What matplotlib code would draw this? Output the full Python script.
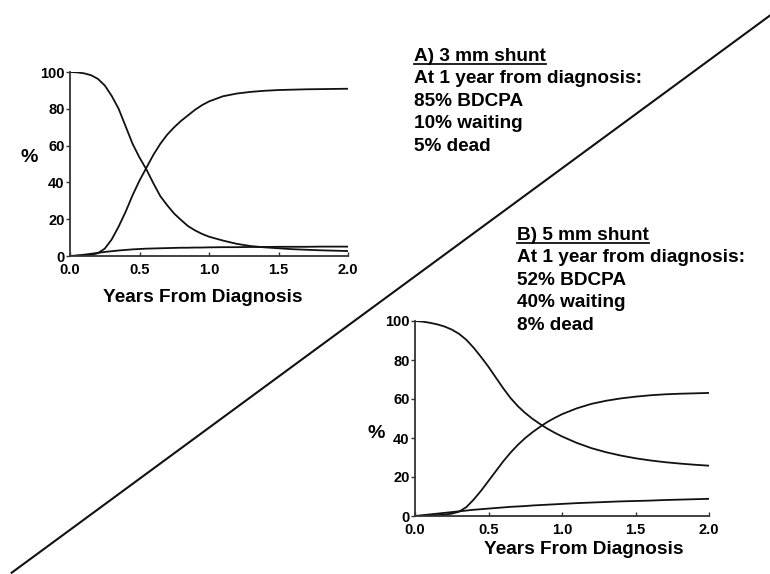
import matplotlib
matplotlib.use("Agg")
import matplotlib.pyplot as plt
from matplotlib.lines import Line2D

plt.rcParams['font.family'] = ['Liberation Sans', 'DejaVu Sans']
plt.rcParams['font.weight'] = 'bold'

# ---- data ----
years = [0, 0.05, 0.1, 0.15, 0.2, 0.25, 0.3, 0.35, 0.4, 0.45, 0.5, 0.55, 0.6, 0.65,
         0.7, 0.75, 0.8, 0.85, 0.9, 0.95, 1.0, 1.1, 1.2, 1.3, 1.4, 1.5, 1.6, 1.7,
         1.8, 1.9, 2.0]

a_waiting = [100, 99.8, 99.3, 98.3, 96.3, 92.7, 87.0, 80.0, 70.5, 61.0, 53.5, 47.0,
             39.5, 32.5, 27.5, 23.0, 19.5, 16.2, 13.9, 12.0, 10.5, 8.4, 6.6, 5.4,
             4.7, 4.2, 3.7, 3.4, 3.1, 2.9, 2.7]
a_bdcpa = [0, 0.1, 0.3, 0.6, 1.5, 4.0, 9.0, 16.0, 24.0, 33.0, 41.0, 48.0, 55.0, 61.0,
           66.0, 70.0, 73.5, 76.5, 79.5, 82.0, 84.0, 86.8, 88.3, 89.2, 89.8, 90.2,
           90.4, 90.6, 90.7, 90.8, 90.9]
a_dead = [0, 0.3, 0.7, 1.2, 1.7, 2.2, 2.6, 3.0, 3.3, 3.6, 3.8, 4.0, 4.1, 4.2, 4.3,
          4.4, 4.5, 4.5, 4.6, 4.6, 4.7, 4.8, 4.8, 4.9, 4.9, 5.0, 5.0, 5.0, 5.1, 5.1, 5.1]

b_waiting = [100, 99.7, 99.1, 98.3, 97.2, 95.6, 93.4, 90.3, 86.2, 81.5, 76.5, 71.0,
             65.5, 60.5, 56.3, 52.8, 49.8, 47.2, 44.8, 42.7, 40.8, 37.5, 34.8, 32.7,
             31.0, 29.6, 28.5, 27.6, 26.9, 26.3, 25.8]
b_bdcpa = [0, 0.1, 0.2, 0.4, 0.7, 1.2, 2.2, 4.6, 8.5, 13.0, 18.0, 23.0, 28.0, 32.5,
           36.5, 40.0, 43.0, 45.7, 48.2, 50.3, 52.2, 55.2, 57.5, 59.1, 60.3, 61.2,
           61.9, 62.4, 62.7, 62.9, 63.1]
b_dead = [0, 0.4, 0.8, 1.2, 1.6, 2.0, 2.4, 2.8, 3.2, 3.5, 3.8, 4.1, 4.4, 4.7, 4.9,
          5.1, 5.4, 5.6, 5.8, 6.0, 6.2, 6.6, 6.9, 7.2, 7.5, 7.7, 7.9, 8.2, 8.4, 8.6, 8.8]

x_ticks = [0.0, 0.5, 1.0, 1.5, 2.0]
x_ticklabels = ['0.0', '0.5', '1.0', '1.5', '2.0']
y_ticks = [0, 20, 40, 60, 80, 100]
y_ticklabels = ['0', '20', '40', '60', '80', '100']
x_label = 'Years From Diagnosis'
y_label = '%'

text_a = ['A) 3 mm shunt', 'At 1 year from diagnosis:', '85% BDCPA', '10% waiting', '5% dead']
text_b = ['B) 5 mm shunt', 'At 1 year from diagnosis:', '52% BDCPA', '40% waiting', '8% dead']

W, H = 770, 574
fig = plt.figure(figsize=(W / 100, H / 100), dpi=100)
fig.patch.set_facecolor('white')


def px(x, y):
    return x / W, 1 - y / H


def make_axes(left, top, right, bottom, series):
    ax = fig.add_axes([left / W, 1 - bottom / H, (right - left) / W, (bottom - top) / H])
    for s in series:
        ax.plot(years, s, color='#111111', lw=1.3, solid_capstyle='round')
    ax.set_xlim(0, 2)
    ax.set_ylim(0, 100)
    for sp in ['top', 'right']:
        ax.spines[sp].set_visible(False)
    for sp in ['left', 'bottom']:
        ax.spines[sp].set_color('#333333')
        ax.spines[sp].set_linewidth(1.3)
    ax.set_xticks(x_ticks)
    ax.set_xticklabels(x_ticklabels, fontsize=10.5, fontweight='bold')
    ax.set_yticks(y_ticks)
    ax.set_yticklabels(y_ticklabels, fontsize=10.5, fontweight='bold')
    ax.tick_params(axis='x', direction='in', length=3, width=1, pad=5, color='#333333')
    ax.tick_params(axis='y', direction='out', length=3, width=1, pad=1, color='#333333')
    ax.patch.set_alpha(0)
    return ax


axA = make_axes(70, 72, 348, 256, [a_waiting, a_bdcpa, a_dead])
axB = make_axes(415, 321, 709, 516, [b_waiting, b_bdcpa, b_dead])

fig.text(*px(29, 157), y_label, fontsize=14, fontweight='bold', ha='center', va='center')
fig.text(*px(376, 433), y_label, fontsize=14, fontweight='bold', ha='center', va='center')
fig.text(*px(203, 297), x_label, fontsize=13.7, fontweight='bold', ha='center', va='center')
fig.text(*px(584, 549), x_label, fontsize=13.7, fontweight='bold', ha='center', va='center')

# diagonal divider
x0, y0 = px(11.7, 572.7)
x1, y1 = px(772, 14)
fig.add_artist(Line2D([x0, x1], [y0, y1], transform=fig.transFigure, color='#111111', lw=1.5))

# annotations
fig.canvas.draw()
renderer = fig.canvas.get_renderer()


def block(x, base, lines):
    objs = []
    for i, s in enumerate(lines):
        t = fig.text(*px(x, base + i * 22.4), s, fontsize=13.7, fontweight='bold',
                     ha='left', va='baseline')
        objs.append(t)
    bb = objs[0].get_window_extent(renderer)
    uy = base + 2.8
    fig.add_artist(Line2D([bb.x0 / W, bb.x1 / W], [1 - uy / H, 1 - uy / H],
                          transform=fig.transFigure, color='#111111', lw=1.3))


block(414, 61, text_a)
block(517, 240, text_b)

fig.savefig('out.png', dpi=100, facecolor='white')
